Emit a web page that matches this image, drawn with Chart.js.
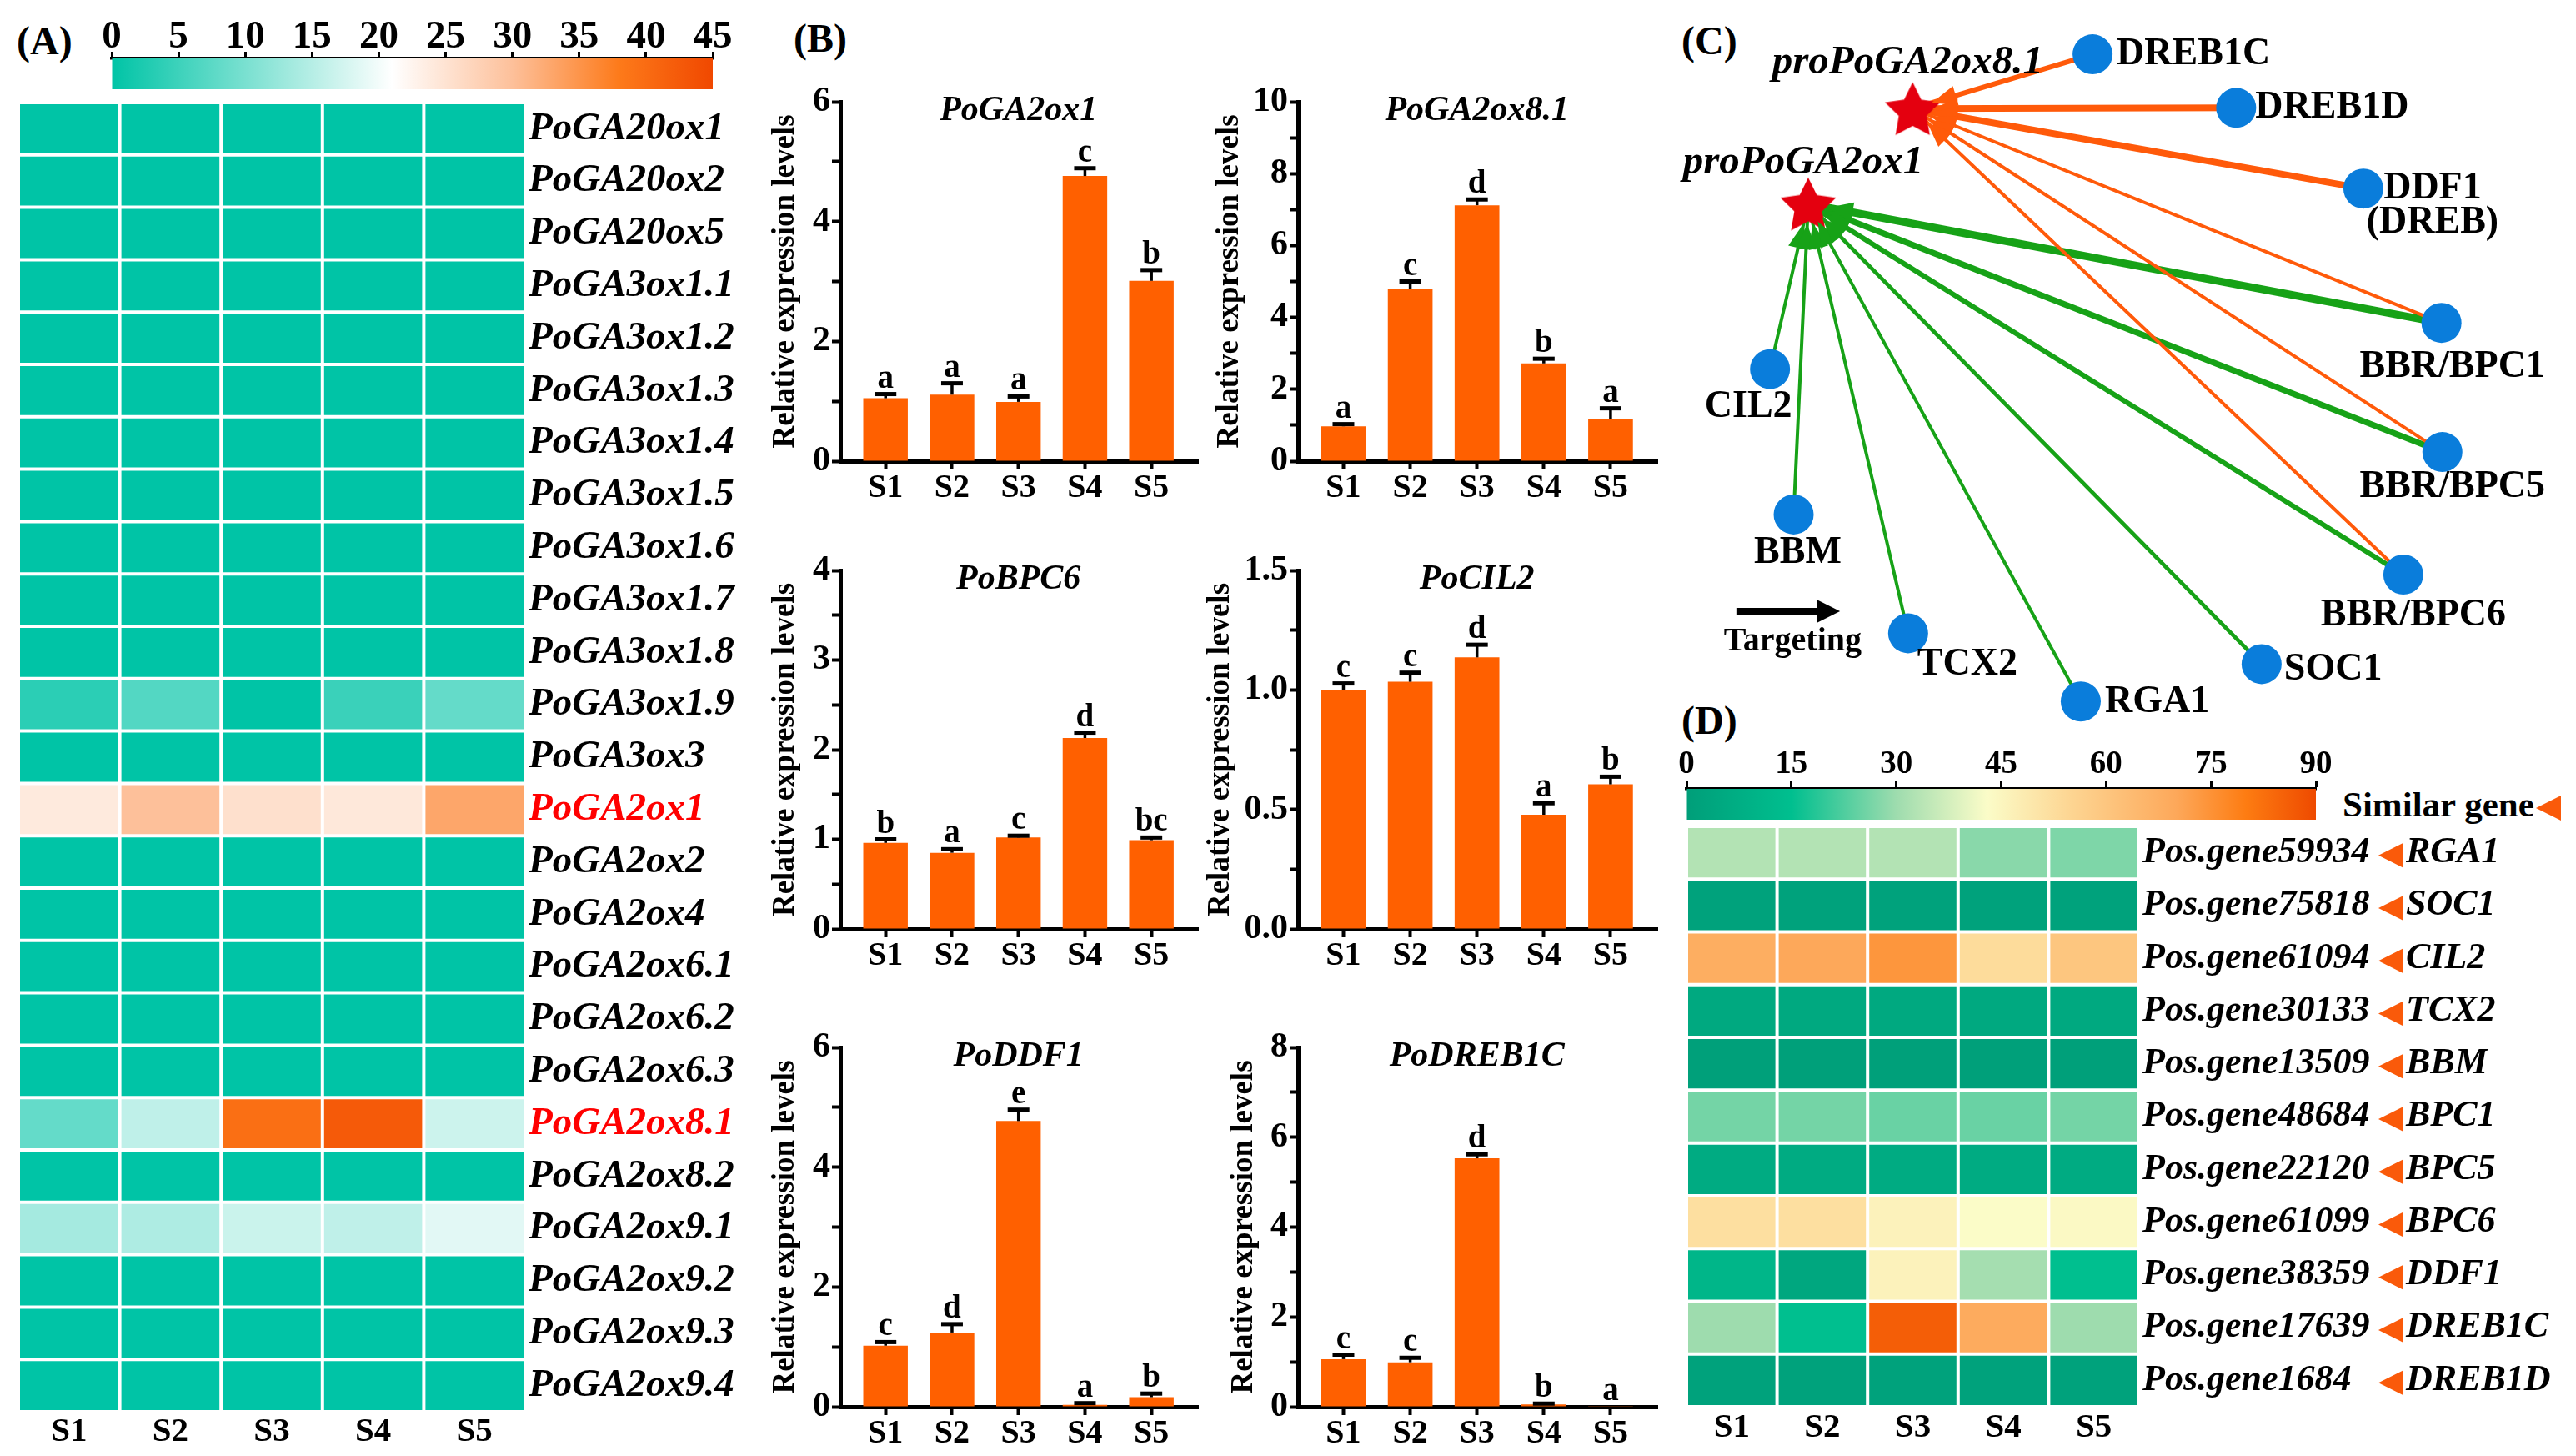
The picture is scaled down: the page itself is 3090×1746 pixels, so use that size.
<!DOCTYPE html>
<html>
<head>
<meta charset="utf-8">
<script src="https://cdn.jsdelivr.net/npm/chart.js@4.4.1/dist/chart.umd.min.js"></script>
<style>
  html, body { margin: 0; padding: 0; background: #fff; }
  #fig { position: relative; width: 3090px; height: 1746px; overflow: hidden; font-family: "Liberation Serif", "Times New Roman", serif; }
  #fig canvas { position: absolute; }
  .tag { position: absolute; font-weight: bold; font-size: 48px; line-height: 48px; color: #000; white-space: nowrap; }
  .tri { display: inline-block; width: 0; height: 0; border-right: 30px solid #fa5a0a; border-top: 15px solid transparent; border-bottom: 15px solid transparent; vertical-align: middle; margin-left: 2px; }
</style>
</head>
<body>
<div id="fig">
  <div class="tag" style="left:20px;top:25px">(A)</div>
  <div class="tag" style="left:952px;top:22px">(B)</div>
  <div class="tag" style="left:2017px;top:25px">(C)</div>
  <div class="tag" style="left:2017px;top:840px">(D)</div>
  <div class="tag" style="left:2810px;top:943px;font-size:43px;line-height:44px">Similar gene<span class="tri"></span></div>
</div>
<script>
// ---- data ----
const samples = ['S1', 'S2', 'S3', 'S4', 'S5'];

// (A) heatmap, one array per sample, rows follow genesA
const genesA = ['PoGA20ox1', 'PoGA20ox2', 'PoGA20ox5', 'PoGA3ox1.1', 'PoGA3ox1.2', 'PoGA3ox1.3', 'PoGA3ox1.4',
  'PoGA3ox1.5', 'PoGA3ox1.6', 'PoGA3ox1.7', 'PoGA3ox1.8', 'PoGA3ox1.9', 'PoGA3ox3', 'PoGA2ox1', 'PoGA2ox2',
  'PoGA2ox4', 'PoGA2ox6.1', 'PoGA2ox6.2', 'PoGA2ox6.3', 'PoGA2ox8.1', 'PoGA2ox8.2', 'PoGA2ox9.1', 'PoGA2ox9.2',
  'PoGA2ox9.3', 'PoGA2ox9.4'];
const highlightA = ['PoGA2ox1', 'PoGA2ox8.1'];
const heatA_S1 = [0, 0, 0, 0, 0, 0, 0, 0, 0, 0, 0, 3.5, 0, 24.0, 0, 0, 0, 0, 0, 8.2, 0, 13.6, 0, 0, 0];
const heatA_S2 = [0, 0, 0, 0, 0, 0, 0, 0, 0, 0, 0, 6.8, 0, 30.0, 0, 0, 0, 0, 0, 15.7, 0, 14.3, 0, 0, 0];
const heatA_S3 = [0, 0, 0, 0, 0, 0, 0, 0, 0, 0, 0, 0, 0, 25.5, 0, 0, 0, 0, 0, 39.5, 0, 16.6, 0, 0, 0];
const heatA_S4 = [0, 0, 0, 0, 0, 0, 0, 0, 0, 0, 0, 4.8, 0, 24.3, 0, 0, 0, 0, 0, 42.5, 0, 15.7, 0, 0, 0];
const heatA_S5 = [0, 0, 0, 0, 0, 0, 0, 0, 0, 0, 0, 8.2, 0, 33.0, 0, 0, 0, 0, 0, 16.8, 0, 18.6, 0, 0, 0];
const scaleATicks = [0, 45, 5];

// (B) qRT-PCR bars
const ga2ox1Mean = [1.05, 1.11, 0.99, 4.76, 3.01];
const ga2ox1Err = [0.07, 0.19, 0.09, 0.13, 0.18];
const ga2ox1Sig = ['a', 'a', 'a', 'c', 'b'];
const ga2ox81Mean = [0.97, 4.78, 7.12, 2.72, 1.18];
const ga2ox81Err = [0.06, 0.22, 0.16, 0.13, 0.29];
const ga2ox81Sig = ['a', 'c', 'd', 'b', 'a'];
const bpc6Mean = [0.96, 0.85, 1.02, 2.13, 0.99];
const bpc6Err = [0.04, 0.04, 0.02, 0.06, 0.03];
const bpc6Sig = ['b', 'a', 'c', 'd', 'bc'];
const cil2Mean = [1.00, 1.034, 1.136, 0.478, 0.605];
const cil2Err = [0.027, 0.038, 0.053, 0.048, 0.032];
const cil2Sig = ['c', 'c', 'd', 'a', 'b'];
const ddf1Mean = [1.02, 1.24, 4.77, 0.03, 0.16];
const ddf1Err = [0.06, 0.14, 0.19, 0.03, 0.06];
const ddf1Sig = ['c', 'd', 'e', 'a', 'b'];
const dreb1cMean = [1.06, 0.99, 5.53, 0.05, 0.005];
const dreb1cErr = [0.10, 0.10, 0.09, 0.02, 0];
const dreb1cSig = ['c', 'c', 'd', 'b', 'a'];

// (C) network: layout coordinates on a 0-100 grid
const netNodes = ['proPoGA2ox8.1', 'proPoGA2ox1', 'DREB1C', 'DREB1D', 'DDF1\n(DREB)', 'BBR/BPC1', 'BBR/BPC5',
  'BBR/BPC6', 'SOC1', 'RGA1', 'TCX2', 'BBM', 'CIL2'];
const netIsPromoter = [true, true, false, false, false, false, false, false, false, false, false, false, false];
const netX = [27.0, 15.5, 46.8, 62.6, 76.6, 85.2, 85.3, 81.0, 65.4, 45.5, 26.5, 13.9, 11.3];
const netY = [14.8, 27.8, 7.4, 14.7, 25.7, 44.0, 61.6, 78.3, 90.5, 95.6, 86.3, 70.1, 50.3];
const edgeFrom = ['DREB1C', 'DREB1D', 'DDF1\n(DREB)', 'BBR/BPC1', 'BBR/BPC5', 'BBR/BPC6',
  'CIL2', 'BBM', 'TCX2', 'RGA1', 'SOC1', 'BBR/BPC6', 'BBR/BPC5', 'BBR/BPC1'];
const edgeTo = ['proPoGA2ox8.1', 'proPoGA2ox8.1', 'proPoGA2ox8.1', 'proPoGA2ox8.1', 'proPoGA2ox8.1', 'proPoGA2ox8.1',
  'proPoGA2ox1', 'proPoGA2ox1', 'proPoGA2ox1', 'proPoGA2ox1', 'proPoGA2ox1', 'proPoGA2ox1', 'proPoGA2ox1', 'proPoGA2ox1'];
const edgeWeight = [1.5, 2, 2, 1, 1, 1, 1, 1, 1, 1, 1.2, 1.5, 1.8, 2.3];

// (D) heatmap
const genesD = ['Pos.gene59934', 'Pos.gene75818', 'Pos.gene61094', 'Pos.gene30133', 'Pos.gene13509', 'Pos.gene48684',
  'Pos.gene22120', 'Pos.gene61099', 'Pos.gene38359', 'Pos.gene17639', 'Pos.gene1684'];
const similarD = ['RGA1', 'SOC1', 'CIL2', 'TCX2', 'BBM', 'BPC1', 'BPC5', 'BPC6', 'DDF1', 'DREB1C', 'DREB1D'];
const heatD_S1 = [33, 2, 68, 5, 1, 26, 6, 52, 11, 30, 2];
const heatD_S2 = [33, 2, 70, 5, 1, 26, 6, 52, 4, 15, 2];
const heatD_S3 = [33, 2, 74, 5, 1, 25, 6, 46, 46, 86, 2];
const heatD_S4 = [28, 2, 53, 5, 1, 25, 6, 43, 31, 69, 2];
const heatD_S5 = [27, 2, 60, 5, 1, 26, 6, 44, 15, 30, 2];
const scaleDTicks = [0, 90, 15];

// ---- styles ----
const SERIF = '"Liberation Serif", "Times New Roman", serif';
const ORANGE = '#ff6000';
const stopsA = [[0, '#00c4a6'], [21, '#ffffff'], [30, '#fdc09a'], [38, '#fd7a1a'], [45, '#f04800']];
const stopsD = [[0, '#009e79'], [15, '#00bf8f'], [30, '#9edcae'], [43, '#fbfcc8'], [55, '#fdd592'],
  [70, '#fda85a'], [80, '#fd7c12'], [90, '#ee4a00']];
const labelPlace = {
  'proPoGA2ox8.1': [-6, -55, 'center'], 'proPoGA2ox1': [-6, -49, 'center'],
  'DREB1C': [29, 0, 'left'], 'DREB1D': [23, 0, 'left'], 'DDF1\n(DREB)': [83, 0, 'center'],
  'BBR/BPC1': [13, 53, 'center'], 'BBR/BPC5': [12, 42, 'center'], 'BBR/BPC6': [12, 49, 'center'],
  'SOC1': [27, 7, 'left'], 'RGA1': [29, 1, 'left'], 'TCX2': [11, 38, 'left'],
  'BBM': [5, 46, 'center'], 'CIL2': [-26, 45, 'center']
};

Chart.defaults.font.family = SERIF;
Chart.defaults.color = '#000';
const common = { responsive: false, animation: false, devicePixelRatio: 1, events: [] };
const noLegend = { legend: { display: false }, tooltip: { enabled: false } };

function makeCanvas(left, top, w, h) {
  const c = document.createElement('canvas');
  c.width = w; c.height = h;
  c.style.left = left + 'px'; c.style.top = top + 'px';
  c.style.width = w + 'px'; c.style.height = h + 'px';
  document.getElementById('fig').appendChild(c);
  return c;
}

function hexRgb(h) {
  return [1, 3, 5].map(i => parseInt(h.slice(i, i + 2), 16));
}

function colorAt(stops, v) {
  for (let i = 1; i < stops.length; i++) {
    if (v <= stops[i][0]) {
      const a = hexRgb(stops[i - 1][1]), b = hexRgb(stops[i][1]);
      const t = (v - stops[i - 1][0]) / (stops[i][0] - stops[i - 1][0]);
      return 'rgb(' + a.map((x, k) => Math.round(x + (b[k] - x) * t)).join(',') + ')';
    }
  }
  return stops[stops.length - 1][1];
}

// ---- heatmaps ----
function heatmap(box, genes, cols, stops, fontSize, labelColor, extraPlugins, yWidth, xHeight, xPad) {
  const cv = makeCanvas(box.L, box.T - 2, box.L2 - box.L, box.bottom - box.T + 2);
  return new Chart(cv, {
    type: 'bar',
    data: {
      labels: genes,
      datasets: cols.map((vals, si) => ({
        label: samples[si],
        data: vals.map(() => 1),
        backgroundColor: vals.map(v => colorAt(stops, v)),
        borderColor: '#fff', borderWidth: 2, borderSkipped: false, inflateAmount: 0,
        categoryPercentage: 1, barPercentage: 1
      }))
    },
    options: {
      ...common, indexAxis: 'y',
      layout: { autoPadding: false, padding: { top: 2, left: 0, right: 0, bottom: 0 } },
      plugins: noLegend,
      scales: {
        x: {
          type: 'linear', stacked: true, min: 0, max: samples.length, offset: false,
          grid: { display: false, drawTicks: false }, border: { display: false },
          afterBuildTicks: s => { s.ticks = samples.map((_, i) => ({ value: i + 0.5 })); },
          ticks: { callback: v => samples[Math.floor(v)], font: { size: 41, weight: 'bold' }, padding: xPad, maxRotation: 0 },
          afterFit: s => { s.height = xHeight; s.paddingLeft = 0; s.paddingRight = 0; }
        },
        y: {
          position: 'right', stacked: true,
          grid: { display: false, drawTicks: false }, border: { display: false },
          ticks: { autoSkip: false, font: { size: fontSize, weight: 'bold', style: 'italic' }, color: labelColor, padding: 4 },
          afterFit: s => { s.width = yWidth; s.paddingTop = 0; s.paddingBottom = 0; }
        }
      }
    },
    plugins: extraPlugins
  });
}

function colorBar(box, ticks, stops, fontSize, tickLen, pad) {
  const [lo, hi, step] = ticks;
  const cv = makeCanvas(box.cl, box.ct, box.cw, box.ch);
  return new Chart(cv, {
    type: 'bar',
    data: {
      labels: [''],
      datasets: [{
        data: [[lo, hi]], borderWidth: 0, categoryPercentage: 1, barPercentage: 1, inflateAmount: 0,
        backgroundColor: ctx => {
          const ch = ctx.chart;
          if (!ch.chartArea) return stops[0][1];
          const xs = ch.scales.x;
          const g = ch.ctx.createLinearGradient(xs.getPixelForValue(lo), 0, xs.getPixelForValue(hi), 0);
          stops.forEach(([v, c]) => g.addColorStop((v - lo) / (hi - lo), c));
          return g;
        }
      }]
    },
    options: {
      ...common, indexAxis: 'y',
      layout: { autoPadding: false, padding: { left: box.L - box.cl, right: box.cl + box.cw - box.R, top: 0, bottom: box.cb } },
      plugins: noLegend,
      scales: {
        x: {
          type: 'linear', position: 'top', min: lo, max: hi, offset: false,
          grid: { drawOnChartArea: false, offset: false, tickLength: tickLen, tickWidth: 3, tickColor: '#000' },
          border: { display: true, width: 3.5, color: '#000' },
          ticks: { stepSize: step, autoSkip: false, maxRotation: 0, font: { size: fontSize, weight: 'bold', lineHeight: 1 }, padding: pad },
          afterFit: s => { s.height = box.axisH; }
        },
        y: { display: false }
      }
    }
  });
}

heatmap({ L: 22, L2: 895, T: 123, bottom: 1746 }, genesA, [heatA_S1, heatA_S2, heatA_S3, heatA_S4, heatA_S5],
  stopsA, 47, c => (highlightA.includes(genesA[c.index]) ? '#ff0000' : '#000'), [], 265, 53, 0);
colorBar({ cl: 100, ct: 0, cw: 800, ch: 110, L: 134, R: 855, cb: 3, axisH: 70 }, scaleATicks, stopsA, 47, 8, -6);

const similarPlugin = {
  id: 'similar',
  afterDraw(chart) {
    const { ctx, chartArea, scales: { y } } = chart;
    ctx.save();
    similarD.forEach((name, i) => {
      const py = y.getPixelForValue(i);
      const x0 = chartArea.right + 287;
      ctx.fillStyle = '#fa5a0a';
      ctx.beginPath();
      ctx.moveTo(x0, py + 3); ctx.lineTo(x0 + 30, py - 12); ctx.lineTo(x0 + 30, py + 18);
      ctx.closePath(); ctx.fill();
      ctx.fillStyle = '#000';
      ctx.font = 'italic bold 44px ' + SERIF;
      ctx.textAlign = 'left'; ctx.textBaseline = 'middle';
      ctx.fillText(name, x0 + 33, py);
    });
    ctx.restore();
  }
};
heatmap({ L: 2023, L2: 3090, T: 991, bottom: 1746 }, genesD, [heatD_S1, heatD_S2, heatD_S3, heatD_S4, heatD_S5],
  stopsD, 44, '#000', [similarPlugin], 3090 - 2566, 59, 1);
colorBar({ cl: 1990, ct: 880, cw: 830, ch: 110, L: 2023, R: 2778, cb: 7, axisH: 66 }, scaleDTicks, stopsD, 39, 10, 0);

// ---- bar charts ----
const errorBarPlugin = {
  id: 'errbars',
  afterDatasetsDraw(chart, args, o) {
    const { ctx, chartArea, scales: { x, y } } = chart;
    const meta = chart.getDatasetMeta(0);
    ctx.save();
    meta.data.forEach((bar, i) => {
      const yTop = y.getPixelForValue(o.mean[i] + o.err[i]);
      ctx.strokeStyle = '#000';
      if (o.err[i] > 0) {
        ctx.lineWidth = 3.5;
        ctx.beginPath(); ctx.moveTo(bar.x, bar.y); ctx.lineTo(bar.x, yTop); ctx.stroke();
        ctx.lineWidth = 5;
        ctx.beginPath(); ctx.moveTo(bar.x - 13, yTop); ctx.lineTo(bar.x + 13, yTop); ctx.stroke();
      }
      ctx.fillStyle = '#000';
      ctx.font = 'bold 39px ' + SERIF;
      ctx.textAlign = 'center'; ctx.textBaseline = 'alphabetic';
      ctx.fillText(o.sig[i], bar.x, yTop - 8);
    });
    ctx.font = 'italic bold 42px ' + SERIF;
    ctx.textAlign = 'center'; ctx.textBaseline = 'middle';
    ctx.fillText(o.title, x.getPixelForValue(3), chartArea.top + 11);
    ctx.restore();
  }
};

function barChart(p, box) {
  const cl = box.titleX - 30, ct = box.T - 36;
  const cw = box.R + 14 - cl, chh = box.B + 66 - ct;
  const cv = makeCanvas(cl, ct, cw, chh);
  const isLabel = v => Math.abs(v / p.labelStep - Math.round(v / p.labelStep)) < 1e-6;
  const axisGrid = { drawOnChartArea: false, offset: false, tickLength: 10, tickWidth: 4, tickColor: '#000' };
  const axisBorder = { display: true, width: 5, color: '#000' };
  return new Chart(cv, {
    type: 'bar',
    data: {
      labels: samples,
      datasets: [{
        data: p.mean.map((v, i) => ({ x: i + 1, y: v })),
        backgroundColor: ORANGE, borderWidth: 0, categoryPercentage: 1, barPercentage: 0.67
      }]
    },
    options: {
      ...common,
      layout: { autoPadding: false, padding: { left: 0, top: 36, right: 14, bottom: 0 } },
      plugins: { ...noLegend, errbars: p },
      scales: {
        x: {
          type: 'linear', offset: false, min: 0.32, max: 5.7,
          grid: axisGrid, border: axisBorder,
          afterBuildTicks: s => { s.ticks = samples.map((_, i) => ({ value: i + 1 })); },
          ticks: { callback: v => samples[v - 1], font: { size: 40, weight: 'bold' }, padding: -1, maxRotation: 0, autoSkip: false },
          afterFit: s => { s.height = 66; }
        },
        y: {
          min: 0, max: p.max,
          grid: axisGrid, border: axisBorder,
          ticks: {
            stepSize: p.step, autoSkip: false, padding: 2,
            font: { size: 42, weight: 'bold' },
            callback: v => (isLabel(v) ? v.toFixed(p.dec) : '')
          },
          title: {
            display: true, text: 'Relative expression levels',
            font: { size: 37, weight: 'bold', lineHeight: 1.2 },
            padding: { top: 30 - 22.2, bottom: 0 }
          },
          afterFit: s => { s.width = box.L - cl; }
        }
      }
    },
    plugins: [errorBarPlugin]
  });
}

barChart({ title: 'PoGA2ox1', mean: ga2ox1Mean, err: ga2ox1Err, sig: ga2ox1Sig, max: 6, step: 1, labelStep: 2, dec: 0 },
  { L: 1008, R: 1437, T: 122, B: 553, titleX: 942 });
barChart({ title: 'PoGA2ox8.1', mean: ga2ox81Mean, err: ga2ox81Err, sig: ga2ox81Sig, max: 10, step: 1, labelStep: 2, dec: 0 },
  { L: 1557, R: 1988, T: 122, B: 553, titleX: 1475 });
barChart({ title: 'PoBPC6', mean: bpc6Mean, err: bpc6Err, sig: bpc6Sig, max: 4, step: 0.5, labelStep: 1, dec: 0 },
  { L: 1008, R: 1437, T: 684, B: 1114, titleX: 942 });
barChart({ title: 'PoCIL2', mean: cil2Mean, err: cil2Err, sig: cil2Sig, max: 1.5, step: 0.25, labelStep: 0.5, dec: 1 },
  { L: 1557, R: 1988, T: 684, B: 1114, titleX: 1464 });
barChart({ title: 'PoDDF1', mean: ddf1Mean, err: ddf1Err, sig: ddf1Sig, max: 6, step: 1, labelStep: 2, dec: 0 },
  { L: 1008, R: 1437, T: 1256, B: 1687, titleX: 942 });
barChart({ title: 'PoDREB1C', mean: dreb1cMean, err: dreb1cErr, sig: dreb1cSig, max: 8, step: 1, labelStep: 2, dec: 0 },
  { L: 1557, R: 1988, T: 1256, B: 1687, titleX: 1492 });

// ---- network ----
function starImage(R, color) {
  const c = document.createElement('canvas');
  const s = Math.ceil(R * 2 + 4);
  c.width = s; c.height = s;
  const g = c.getContext('2d');
  g.translate(s / 2, s / 2 + R * 0.095);
  g.beginPath();
  for (let k = 0; k < 10; k++) {
    const r = k % 2 ? R * 0.5 : R;
    const a = -Math.PI / 2 + k * Math.PI / 5;
    g.lineTo(r * Math.cos(a), r * Math.sin(a));
  }
  g.closePath();
  g.fillStyle = color; g.fill();
  return c;
}

const GREEN = '#17a217', EDGE_ORANGE = '#ff5a0a', BLUE = '#0a7ddb';
const nodePos = name => { const i = netNodes.indexOf(name); return { x: netX[i], y: netY[i] }; };
const edgeColor = i => (edgeTo[i] === 'proPoGA2ox1' ? GREEN : EDGE_ORANGE);

const netPlugin = {
  id: 'netdeco',
  afterDatasetsDraw(chart) {
    const { ctx, scales: { x, y } } = chart;
    ctx.save();
    // arrowheads
    edgeFrom.forEach((f, i) => {
      const a = nodePos(f), b = nodePos(edgeTo[i]);
      const ax = x.getPixelForValue(a.x), ay = y.getPixelForValue(a.y);
      const bx = x.getPixelForValue(b.x), by = y.getPixelForValue(b.y);
      const len = Math.hypot(ax - bx, ay - by), ux = (ax - bx) / len, uy = (ay - by) / len;
      const tx = bx + ux * 24, ty = by + uy * 24;
      const baseX = tx + ux * 30, baseY = ty + uy * 30;
      ctx.fillStyle = edgeColor(i);
      ctx.beginPath();
      ctx.moveTo(tx, ty);
      ctx.lineTo(baseX - uy * 12, baseY + ux * 12);
      ctx.lineTo(baseX + uy * 12, baseY - ux * 12);
      ctx.closePath(); ctx.fill();
    });
    // labels
    ctx.fillStyle = '#000';
    ctx.textBaseline = 'middle';
    netNodes.forEach((name, i) => {
      const [dx, dy, align] = labelPlace[name];
      const px = x.getPixelForValue(netX[i]), py = y.getPixelForValue(netY[i]);
      ctx.font = (netIsPromoter[i] ? 'italic bold 49px ' : 'bold 46px ') + SERIF;
      ctx.textAlign = align;
      name.split('\n').forEach((line, k) => ctx.fillText(line, px + dx, py + dy + k * 41));
    });
    // legend arrow
    const ly = y.getPixelForValue(83.3);
    const x0 = x.getPixelForValue(7.6), x1 = x.getPixelForValue(19.0);
    ctx.strokeStyle = '#000'; ctx.lineWidth = 8;
    ctx.beginPath(); ctx.moveTo(x0, ly); ctx.lineTo(x1 - 26, ly); ctx.stroke();
    ctx.fillStyle = '#000';
    ctx.beginPath(); ctx.moveTo(x1, ly); ctx.lineTo(x1 - 28, ly - 14); ctx.lineTo(x1 - 28, ly + 14); ctx.closePath(); ctx.fill();
    ctx.font = 'bold 40px ' + SERIF; ctx.textAlign = 'center';
    ctx.fillText('Targeting', x.getPixelForValue(13.8), y.getPixelForValue(87.5));
    ctx.restore();
  }
};

const starImg = starImage(35, '#e4000f');
const netCanvas = makeCanvas(2000, 0, 1090, 880);
new Chart(netCanvas, {
  type: 'scatter',
  data: {
    datasets: [
      {
        data: netNodes.map((n, i) => ({ x: netX[i], y: netY[i] })).filter((_, i) => !netIsPromoter[i]),
        pointRadius: 24, pointBackgroundColor: BLUE, pointBorderWidth: 0, showLine: false
      },
      {
        data: netNodes.map((n, i) => ({ x: netX[i], y: netY[i] })).filter((_, i) => netIsPromoter[i]),
        pointStyle: starImg, pointRadius: 35, showLine: false
      },
      ...edgeFrom.map((f, i) => ({
        data: [nodePos(f), nodePos(edgeTo[i])],
        showLine: true, borderColor: edgeColor(i), borderWidth: edgeWeight[i] * 4,
        pointRadius: 0, borderCapStyle: 'round'
      }))
    ]
  },
  options: {
    ...common,
    layout: { autoPadding: false, padding: 0 },
    plugins: noLegend,
    scales: {
      x: { type: 'linear', min: 0, max: 100, display: false },
      y: { type: 'linear', min: 0, max: 100, reverse: true, display: false }
    }
  },
  plugins: [netPlugin]
});
</script>
</body>
</html>
